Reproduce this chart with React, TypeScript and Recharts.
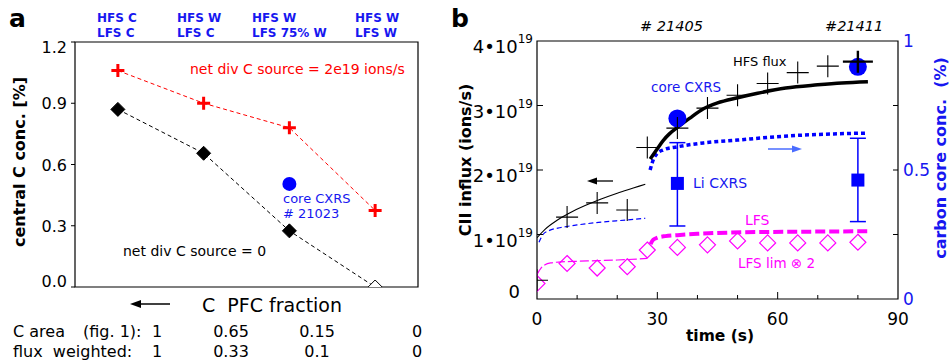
import React from "react";
import { ComposedChart, Line, Scatter, XAxis, YAxis, ReferenceArea, ErrorBar } from "recharts";

const FONT = "'DejaVu Sans', 'Liberation Sans', sans-serif";
const BLUE = "#0000ff";
const BLUE_TEXT = "#1717f0";
const MAGENTA = "#ff00ff";
const RED = "#ff0000";

// ---------- Panel a data ----------
const aConfigHFS = ["HFS C", "HFS W", "HFS W", "HFS W"];
const aConfigLFS = ["LFS C", "LFS C", "LFS 75% W", "LFS W"];
const aPosition = [0, 1, 2, 3];
const aNetSource2e19 = [1.06, 0.9, 0.78, 0.375];
const aNetSource0 = [0.87, 0.655, 0.275, 0.0];
const aCoreCxrsPosition = [2];
const aCoreCxrsValue = [0.505];
const aYTicks = [0, 0.3, 0.6, 0.9, 1.2];
const cAreaRow = ["1", "0.65", "0.15", "0"];
const fluxWeightedRow = ["1", "0.33", "0.1", "0"];

// ---------- Panel b data (left axis in units of 1e19 ions/s, right axis in %) ----------
const bXTicks = [0, 10, 20, 30, 40, 50, 60, 70, 80, 90];
const bLeftTicks = [0, 1, 2, 3, 4];
const bRightTicks = [0, 0.25, 0.5, 0.75, 1];

const hfsFluxTime = [0, 7.5, 15, 22.5, 27.5, 35, 42.5, 50, 57.5, 65, 72.5, 80];
const hfsFluxValue = [0.29, 1.27, 1.49, 1.38, 2.35, 2.65, 2.96, 3.16, 3.34, 3.51, 3.61, 3.68];

const lfsLimTime = [0, 7.5, 15, 22.5, 27.5, 35, 42.5, 50, 57.5, 65, 72.5, 80];
const lfsLimValue = [0.24, 0.55, 0.48, 0.5, 0.76, 0.8, 0.84, 0.9, 0.87, 0.87, 0.87, 0.88];

const coreCxrsTime = [35, 80];
const coreCxrsConc = [0.7, 0.9];

const liCxrsTime = [35, 80];
const liCxrsConc = [0.448, 0.461];
const liCxrsErrLow = [0.165, 0.161];
const liCxrsErrHigh = [0.158, 0.162];

const hfsModelEarlyTime = [0, 2, 5, 8, 12, 16, 20, 24, 27];
const hfsModelEarlyValue = [0.95, 1.08, 1.22, 1.33, 1.45, 1.55, 1.64, 1.72, 1.78];

const hfsModelLateTime = [28.2, 30, 31.5, 33, 35, 38, 41.5, 45, 50, 55, 62, 70, 76, 82.5];
const hfsModelLateValue = [2.17, 2.33, 2.46, 2.56, 2.66, 2.8, 2.95, 3.04, 3.12, 3.19, 3.27, 3.32, 3.35, 3.37];

const concModelEarlyTime = [0.5, 1.5, 3, 6, 10, 16, 22, 27];
const concModelEarlyValue = [0.22, 0.25, 0.265, 0.277, 0.287, 0.298, 0.306, 0.313];

const concModelLateTime = [28.2, 29, 30, 31.5, 35, 41.5, 50, 58, 66, 74, 82.5];
const concModelLateValue = [0.5, 0.54, 0.565, 0.578, 0.59, 0.605, 0.616, 0.627, 0.635, 0.64, 0.643];

const lfsModelEarlyTime = [0, 1, 2, 3.5, 6, 10, 15, 20, 25, 27.5];
const lfsModelEarlyValue = [0.38, 0.48, 0.53, 0.56, 0.575, 0.585, 0.595, 0.605, 0.62, 0.63];

const lfsModelLateTime = [28.3, 29, 30, 32, 35, 40, 48, 58, 70, 82.5];
const lfsModelLateValue = [0.85, 0.92, 0.95, 0.975, 0.99, 1.01, 1.03, 1.04, 1.045, 1.05];

// ---------- layout constants (text placement) ----------
const aConfigLabelX = [97, 177, 252, 355];
const tableValueX = [157, 231, 317, 417];

// ---------- derived tables ----------
const aData = aPosition.map((x, i) => ({ x, red: aNetSource2e19[i], black: aNetSource0[i] }));
const aCore = aCoreCxrsPosition.map((x, i) => ({ x, y: aCoreCxrsValue[i] }));
const zipTV = (t: number[], v: number[]) => t.map((tt, i) => ({ t: tt, v: v[i] }));
const hfsData = zipTV(hfsFluxTime, hfsFluxValue);
const hfsDataMain = hfsData.slice(0, hfsData.length - 1);
const hfsDataLast = hfsData.slice(hfsData.length - 1);
const lfsLimData = zipTV(lfsLimTime, lfsLimValue);
const coreData = zipTV(coreCxrsTime, coreCxrsConc);
const liData = liCxrsTime.map((t, i) => ({ t, v: liCxrsConc[i], err: [liCxrsErrLow[i], liCxrsErrHigh[i]] }));
const hfsEarly = zipTV(hfsModelEarlyTime, hfsModelEarlyValue);
const hfsLate = zipTV(hfsModelLateTime, hfsModelLateValue);
const concEarly = zipTV(concModelEarlyTime, concModelEarlyValue);
const concLate = zipTV(concModelLateTime, concModelLateValue);
const lfsEarly = zipTV(lfsModelEarlyTime, lfsModelEarlyValue);
const lfsLate = zipTV(lfsModelLateTime, lfsModelLateValue);

// ---------- tick renderers ----------
const ATickLeft = (props: any) => {
  const { x, y, payload } = props;
  const v = payload.value as number;
  const dy = v === aYTicks[aYTicks.length - 1] ? 11 : v === 0 ? 0 : 6;
  return (
    <g>
      <line x1={x - 4} x2={x} y1={y} y2={y} stroke="#000" strokeWidth={1} />
      <text x={x - 8} y={y + dy} textAnchor="end" fontSize={16} fontFamily={FONT} fill="#000">
        {v.toFixed(1)}
      </text>
    </g>
  );
};

const ATickRight = (props: any) => {
  const { x, y, payload } = props;
  const v = payload.value as number;
  if (v === 0 || v === aYTicks[aYTicks.length - 1]) return <g />;
  return <line x1={x - 5} x2={x} y1={y} y2={y} stroke="#000" strokeWidth={1} />;
};

const BTickX = (props: any) => {
  const { x, y, payload } = props;
  const v = payload.value as number;
  const major = v % 30 === 0;
  return (
    <g>
      {v > 0 && v < 90 ? <line x1={x} x2={x} y1={y} y2={y - (major ? 7 : 4)} stroke="#000" strokeWidth={1} /> : null}
      {major ? (
        <text x={x} y={y + 26} textAnchor="middle" fontSize={17} fontFamily={FONT} fill="#000">
          {v}
        </text>
      ) : null}
    </g>
  );
};

const BTickLeft = (props: any) => {
  const { x, y, payload } = props;
  const v = payload.value as number;
  return (
    <g>
      {v > 0 && v < 4 ? <line x1={x} x2={x + 6} y1={y} y2={y} stroke="#000" strokeWidth={1} /> : null}
      {v === 0 ? (
        <text x={x - 17} y={y - 1} textAnchor="end" fontSize={18} fontFamily={FONT} fill="#000">
          0
        </text>
      ) : (
        <text x={x - 4} y={y + 12} textAnchor="end" fontSize={18} fontFamily={FONT} fill="#000">
          {`${v}\u202210`}
          <tspan dy={-10} fontSize={12}>19</tspan>
        </text>
      )}
    </g>
  );
};

const BTickRight = (props: any) => {
  const { x, y, payload } = props;
  const v = payload.value as number;
  const labelled = v === 0 || v === 0.5 || v === 1;
  return (
    <g>
      {v > 0 && v < 1 ? <line x1={x - 5} x2={x} y1={y} y2={y} stroke="#000" strokeWidth={1} /> : null}
      {labelled ? (
        <text x={x + 5} y={y + 6} textAnchor="start" fontSize={17} fontFamily={FONT} fill={BLUE_TEXT}>
          {String(v)}
        </text>
      ) : null}
    </g>
  );
};

// ---------- marker shapes ----------
const redCross = (props: any) => {
  const { cx, cy } = props;
  if (cx == null || cy == null) return <g />;
  return (
    <path
      key={`rc-${props.index}`}
      d={`M${cx - 6.5},${cy}H${cx + 6.5}M${cx},${cy - 6.5}V${cy + 6.5}`}
      stroke={RED}
      strokeWidth={3}
      fill="none"
    />
  );
};

const blackDiamond = (props: any) => {
  const { cx, cy, index } = props;
  if (cx == null || cy == null) return <g />;
  const s = 7;
  if (index === aNetSource0.length - 1) {
    return (
      <path
        key={`bd-${index}`}
        d={`M${cx - s},${cy}L${cx},${cy - s}L${cx + s},${cy}`}
        stroke="#000"
        strokeWidth={1}
        fill="#fff"
      />
    );
  }
  return (
    <path
      key={`bd-${index}`}
      d={`M${cx},${cy - s}L${cx + s},${cy}L${cx},${cy + s}L${cx - s},${cy}Z`}
      fill="#000"
      stroke="#000"
      strokeWidth={1}
    />
  );
};

const thinCross = (props: any) => {
  const { cx, cy } = props;
  return <path d={`M${cx - 11},${cy}H${cx + 11}M${cx},${cy - 11}V${cy + 11}`} stroke="#000" strokeWidth={1.1} fill="none" />;
};

const boldCross = (props: any) => {
  const { cx, cy } = props;
  return <path d={`M${cx - 15},${cy}H${cx + 15}M${cx},${cy - 11}V${cy + 11}`} stroke="#000" strokeWidth={2.4} fill="none" />;
};

const openDiamond = (props: any) => {
  const { cx, cy } = props;
  const s = 8;
  return (
    <path
      d={`M${cx},${cy - s}L${cx + s},${cy}L${cx},${cy + s}L${cx - s},${cy}Z`}
      stroke={MAGENTA}
      strokeWidth={1.2}
      fill="none"
    />
  );
};

const blueSquare = (props: any) => {
  const { cx, cy } = props;
  return <rect x={cx - 6.5} y={cy - 6.5} width={13} height={13} fill={BLUE} />;
};

const blueDot = (r: number) => (props: any) => {
  const { cx, cy } = props;
  return <circle cx={cx} cy={cy} r={r} fill={BLUE} />;
};

export default function App() {
  return (
    <div style={{ position: "absolute", left: 0, top: 0, width: 950, height: 362, background: "#fff", fontFamily: FONT }}>
      {/* Panel a */}
      <div style={{ position: "absolute", left: 0, top: 0 }}>
        <ComposedChart width={430} height={362} data={aData} margin={{ top: 42, right: 2, bottom: 75, left: 15 }}>
          <XAxis type="number" dataKey="x" domain={[-0.5, 3.5]} hide allowDataOverflow />
          <YAxis
            yAxisId="l"
            type="number"
            domain={[0, 1.2]}
            ticks={aYTicks}
            width={60}
            allowDataOverflow
            axisLine={false}
            tickLine={false}
            tickSize={0}
            tickMargin={0}
            tick={(p: any) => <ATickLeft {...p} />}
          />
          <YAxis
            yAxisId="r"
            orientation="right"
            type="number"
            domain={[0, 1.2]}
            ticks={aYTicks}
            width={10}
            axisLine={false}
            tickLine={false}
            tickSize={0}
            tickMargin={0}
            tick={(p: any) => <ATickRight {...p} />}
          />
          <ReferenceArea yAxisId="l" x1={-0.5} x2={3.5} y1={0} y2={1.2} fill="none" stroke="#000" strokeWidth={1.2} />
          <Line
            yAxisId="l"
            dataKey="black"
            stroke="#000"
            strokeWidth={1}
            strokeDasharray="4 3"
            dot={blackDiamond}
            activeDot={false}
            isAnimationActive={false}
          />
          <Line
            yAxisId="l"
            dataKey="red"
            stroke={RED}
            strokeWidth={1}
            strokeDasharray="4 3"
            dot={redCross}
            activeDot={false}
            isAnimationActive={false}
          />
          <Scatter yAxisId="l" data={aCore} dataKey="y" shape={blueDot(7)} isAnimationActive={false} />
        </ComposedChart>
      </div>

      {/* Panel b */}
      <div style={{ position: "absolute", left: 470, top: 0 }}>
        <ComposedChart width={480} height={362} margin={{ top: 41, right: 12, bottom: 33, left: 7 }}>
          <XAxis
            type="number"
            dataKey="t"
            domain={[0, 90]}
            ticks={bXTicks}
            allowDataOverflow
            height={30}
            axisLine={false}
            tickLine={false}
            tickSize={0}
            tickMargin={0}
            interval={0}
            tick={(p: any) => <BTickX {...p} />}
          />
          <YAxis
            yAxisId="l"
            type="number"
            domain={[0, 4]}
            ticks={bLeftTicks}
            width={60}
            allowDataOverflow
            axisLine={false}
            tickLine={false}
            tickSize={0}
            tickMargin={0}
            interval={0}
            tick={(p: any) => <BTickLeft {...p} />}
          />
          <YAxis
            yAxisId="r"
            orientation="right"
            type="number"
            domain={[0, 1]}
            ticks={bRightTicks}
            width={40}
            allowDataOverflow
            axisLine={false}
            tickLine={false}
            tickSize={0}
            tickMargin={0}
            interval={0}
            tick={(p: any) => <BTickRight {...p} />}
          />
          <ReferenceArea yAxisId="l" x1={0} x2={90} y1={0} y2={4} fill="none" stroke="#000" strokeWidth={1.2} />

          <Line yAxisId="l" data={lfsEarly} dataKey="v" type="monotone" stroke={MAGENTA} strokeWidth={1.2} strokeDasharray="9 3" dot={false} activeDot={false} isAnimationActive={false} />
          <Line yAxisId="l" data={lfsLate} dataKey="v" type="monotone" stroke={MAGENTA} strokeWidth={4} strokeDasharray="10 4" dot={false} activeDot={false} isAnimationActive={false} />
          <Line yAxisId="r" data={concEarly} dataKey="v" type="monotone" stroke={BLUE} strokeWidth={1.2} strokeDasharray="5 3" dot={false} activeDot={false} isAnimationActive={false} />
          <Line yAxisId="r" data={concLate} dataKey="v" type="monotone" stroke={BLUE} strokeWidth={3.5} strokeDasharray="4 3" dot={false} activeDot={false} isAnimationActive={false} />
          <Line yAxisId="l" data={hfsEarly} dataKey="v" type="monotone" stroke="#000" strokeWidth={1.1} dot={false} activeDot={false} isAnimationActive={false} />
          <Line yAxisId="l" data={hfsLate} dataKey="v" type="monotone" stroke="#000" strokeWidth={3.5} dot={false} activeDot={false} isAnimationActive={false} />

          <Scatter yAxisId="l" data={lfsLimData} dataKey="v" shape={openDiamond} isAnimationActive={false} />
          <Scatter yAxisId="r" data={liData} dataKey="v" shape={blueSquare} isAnimationActive={false}>
            <ErrorBar dataKey="err" direction="y" width={8} stroke={BLUE} strokeWidth={1.5} />
          </Scatter>
          <Scatter yAxisId="r" data={coreData} dataKey="v" shape={blueDot(9)} isAnimationActive={false} />
          <Scatter yAxisId="l" data={hfsDataMain} dataKey="v" shape={thinCross} isAnimationActive={false} />
          <Scatter yAxisId="l" data={hfsDataLast} dataKey="v" shape={boldCross} isAnimationActive={false} />
        </ComposedChart>
      </div>

      {/* Text overlay */}
      <svg width={950} height={362} style={{ position: "absolute", left: 0, top: 0, pointerEvents: "none" }} fontFamily={FONT}>
        <text x={9} y={27} fontSize={25} fontWeight="bold" fill="#000">a</text>
        <text x={451} y={27} fontSize={25} fontWeight="bold" fill="#000">b</text>

        {aConfigHFS.map((s, i) => (
          <text key={`h${i}`} x={aConfigLabelX[i]} y={22} fontSize={12} fontWeight="bold" fill={BLUE_TEXT}>{s}</text>
        ))}
        {aConfigLFS.map((s, i) => (
          <text key={`l${i}`} x={aConfigLabelX[i]} y={37} fontSize={12} fontWeight="bold" fill={BLUE_TEXT}>{s}</text>
        ))}

        <text x={190} y={74} fontSize={14} fill={RED}>net div C source = 2e19 ions/s</text>
        <text x={123} y={256} fontSize={14} fill="#000">net div C source = 0</text>
        <text x={283} y={203} fontSize={13} fill={BLUE_TEXT}>core CXRS</text>
        <text x={283} y={218} fontSize={13} fill={BLUE_TEXT}># 21023</text>

        <text transform="translate(25,162) rotate(-90)" textAnchor="middle" fontSize={16} fontWeight="bold" fill="#000">
          central C conc. [%]
        </text>

        <line x1={136} x2={170} y1={304} y2={304} stroke="#000" strokeWidth={1.5} />
        <polygon points="130,304 141,300 141,308" fill="#000" />
        <text x={202} y={312} fontSize={19} fill="#000" style={{ whiteSpace: "pre" }}>C  PFC fraction</text>

        <text x={13} y={337} fontSize={16} fill="#000">C area</text>
        <text x={83} y={337} fontSize={16} fill="#000">(fig. 1):</text>
        <text x={13} y={357} fontSize={16} fill="#000" style={{ whiteSpace: "pre" }}>flux  weighted:</text>
        {cAreaRow.map((s, i) => (
          <text key={`ca${i}`} x={tableValueX[i]} y={337} fontSize={16} textAnchor="middle" fill="#000">{s}</text>
        ))}
        {fluxWeightedRow.map((s, i) => (
          <text key={`fw${i}`} x={tableValueX[i]} y={357} fontSize={16} textAnchor="middle" fill="#000">{s}</text>
        ))}

        <text x={640} y={31} fontSize={14.5} fontStyle="italic" fill="#000"># 21405</text>
        <text x={825} y={31} fontSize={14.5} fontStyle="italic" fill="#000">#21411</text>

        <text x={733} y={66} fontSize={13} fill="#000">HFS flux</text>
        <text x={651} y={92} fontSize={13.5} fill={BLUE_TEXT}>core CXRS</text>
        <text x={693} y={188} fontSize={14} fill={BLUE_TEXT}>Li CXRS</text>
        <text x={745} y={225} fontSize={14} fill={MAGENTA}>LFS</text>
        <text x={738} y={268} fontSize={13.5} fill={MAGENTA}>LFS lim ⊗ 2</text>

        <line x1={593} x2={613} y1={181} y2={181} stroke="#000" strokeWidth={1.3} />
        <polygon points="587,181 597,177.5 597,184.5" fill="#000" />
        <line x1={768} x2={796} y1={149} y2={149} stroke="#4a6cff" strokeWidth={1.5} />
        <polygon points="802,149 792,145.5 792,152.5" fill="#4a6cff" />

        <text x={720} y={341} fontSize={15.5} fontWeight="bold" textAnchor="middle" fill="#000">time (s)</text>
        <text transform="translate(471,160) rotate(-90)" textAnchor="middle" fontSize={16} fontWeight="bold" fill="#000">
          CII influx (ions/s)
        </text>
        <text transform="translate(946,158) rotate(-90)" textAnchor="middle" fontSize={16} fontWeight="bold" fill={BLUE_TEXT} style={{ whiteSpace: "pre" }}>
          carbon core conc.  (%)
        </text>
      </svg>
    </div>
  );
}
